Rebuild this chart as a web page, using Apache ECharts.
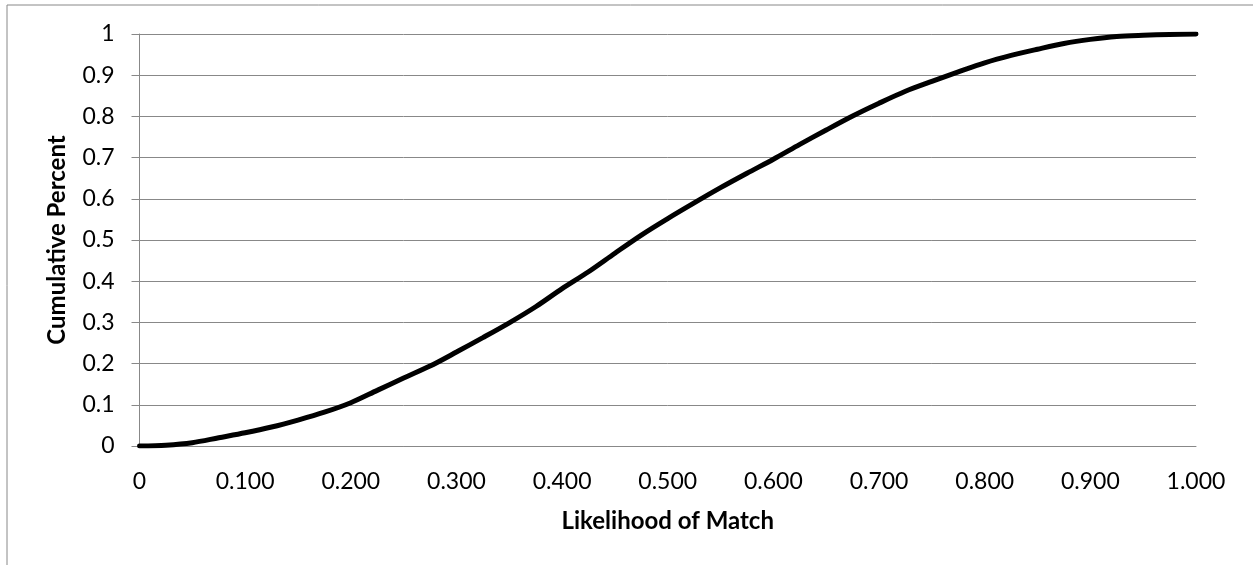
<!DOCTYPE html>
<html>
<head>
<meta charset="utf-8">
<style>
html,body{margin:0;padding:0;background:#fff;}
#chart{width:1253px;height:565px;}
</style>
<script src="https://cdn.jsdelivr.net/npm/echarts@6/dist/echarts.min.js"></script>
</head>
<body>
<div id="chart"></div>
<script>
const likelihood = [0,0.025,0.05,0.075,0.1,0.125,0.15,0.175,0.2,0.225,0.25,0.275,0.3,0.325,0.35,0.375,0.4,0.425,0.45,0.475,0.5,0.525,0.55,0.575,0.6,0.625,0.65,0.675,0.7,0.725,0.75,0.775,0.8,0.825,0.85,0.875,0.9,0.925,0.95,0.975,1.0];
const cumulative = [0,0.002,0.008,0.02,0.032,0.046,0.063,0.082,0.105,0.135,0.165,0.194,0.228,0.263,0.299,0.338,0.382,0.423,0.468,0.512,0.552,0.59,0.627,0.662,0.696,0.732,0.767,0.801,0.832,0.861,0.885,0.908,0.93,0.948,0.963,0.977,0.987,0.994,0.997,0.999,1.0];
const xTitle = 'Likelihood of Match';
const yTitle = 'Cumulative Percent';

const FONT = 'Lato';
const chart = echarts.init(document.getElementById('chart'), null, {renderer:'canvas'});
chart.setOption({
  animation:false,
  backgroundColor:'#fff',
  graphic:[{type:'rect',shape:{x:7,y:5,width:1300,height:600},style:{fill:'none',stroke:'#888',lineWidth:1},silent:true}],
  grid:{left:139.5,right:57,top:34,bottom:119,containLabel:false},
  xAxis:{
    type:'value',min:0,max:1,interval:0.1,
    name:xTitle,nameLocation:'middle',nameGap:63,
    nameTextStyle:{fontFamily:FONT,fontSize:24,fontWeight:'bold',color:'#000'},
    axisLine:{show:true,lineStyle:{color:'#888',width:1}},
    axisTick:{show:false},
    splitLine:{show:false},
    axisLabel:{margin:24,fontFamily:FONT,fontSize:23,color:'#000',
      formatter:v=> v===0 ? '0' : v.toFixed(3)}
  },
  yAxis:{
    type:'value',min:0,max:1,interval:0.1,
    name:yTitle,nameLocation:'middle',nameGap:70,
    nameTextStyle:{fontFamily:FONT,fontSize:24,fontWeight:'bold',color:'#000'},
    axisLine:{show:true,lineStyle:{color:'#888',width:1}},
    axisTick:{show:true,length:8,lineStyle:{color:'#888'}},
    splitLine:{show:true,lineStyle:{color:'#888',width:1}},
    axisLabel:{margin:25,fontFamily:FONT,fontSize:23,color:'#000',
      formatter:v=> String(Math.round(v*10)/10)}
  },
  series:[{
    type:'line',
    data: likelihood.map((x,i)=>[x,cumulative[i]]),
    showSymbol:false,smooth:0.3,
    lineStyle:{color:'#000',width:5,cap:'round'}
  }]
});
</script>
</body>
</html>
